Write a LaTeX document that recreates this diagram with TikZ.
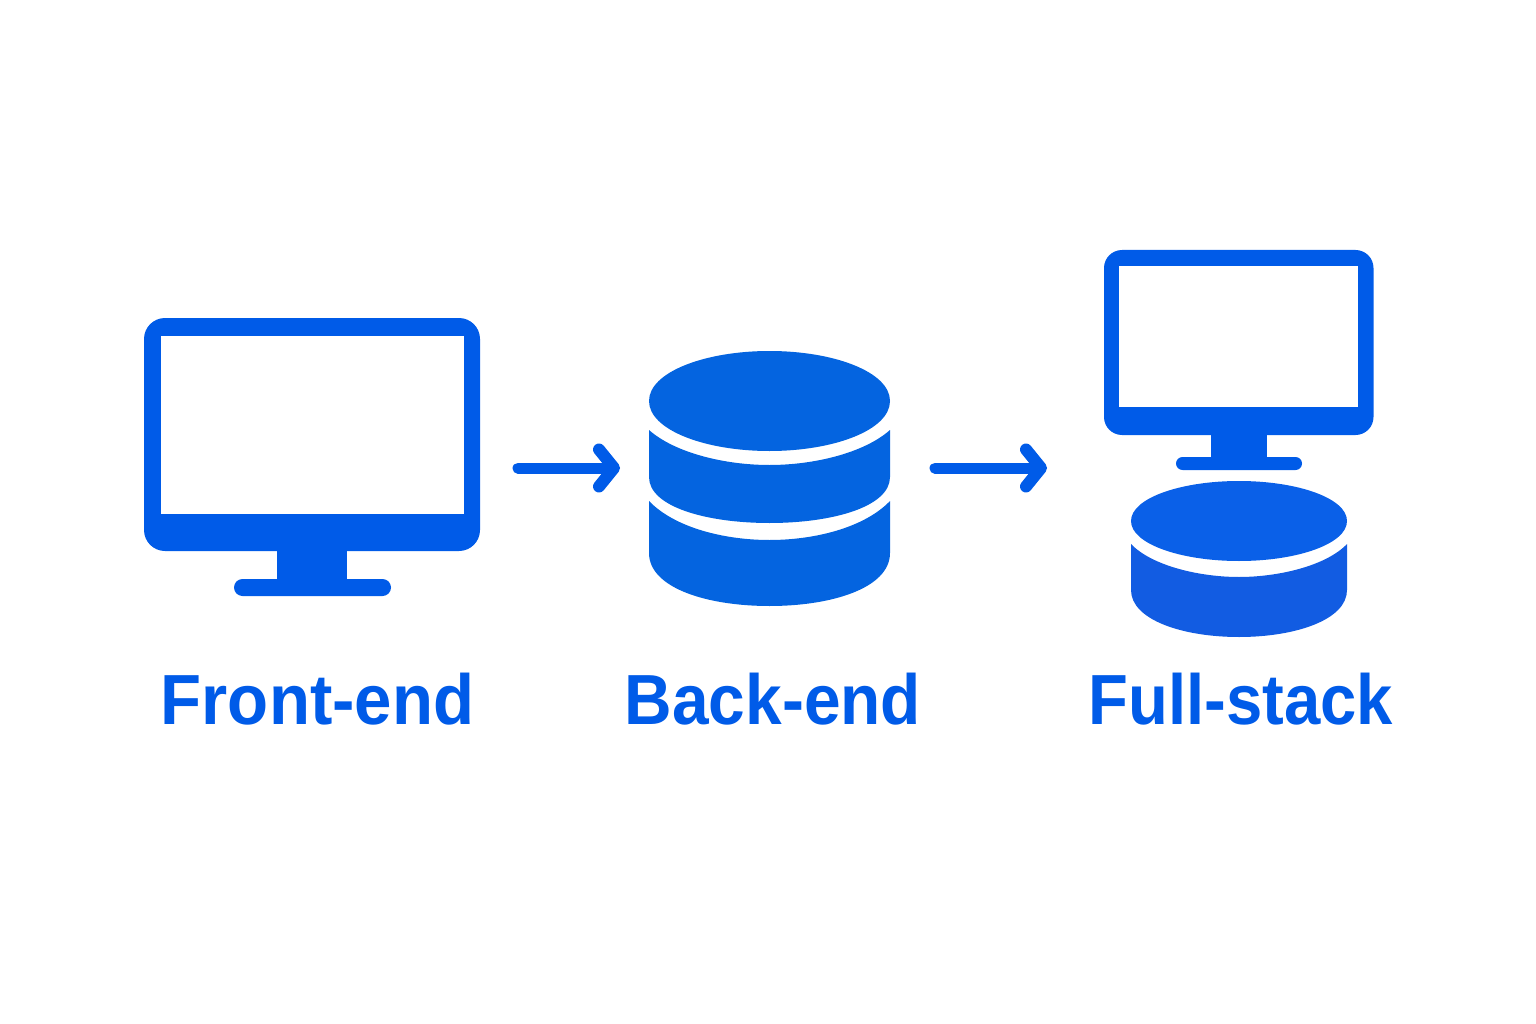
\documentclass[tikz,border=0pt]{standalone}
\usepackage{fontspec}
\setmainfont{Liberation Sans}[FakeStretch=0.95]
\usetikzlibrary{arrows.meta}
\definecolor{iconblue}{RGB}{0,91,232}
\definecolor{dbblue}{RGB}{4,100,224}
\definecolor{stacktop}{RGB}{10,96,232}
\definecolor{stackbot}{RGB}{18,92,226}
\tikzset{
  labeltext/.style={font=\fontsize{71}{80}\selectfont\bfseries,text=iconblue,anchor=base,inner sep=0pt,transform shape},
  flow/.style={draw=iconblue,line width=11pt,line cap=round,-{Straight Barb[round,length=15pt,width=37pt,line width=12pt]}},
  iconfill/.style={fill=iconblue},
  screenhole/.style={fill=white}
}
\begin{document}
\begin{tikzpicture}[x=1pt,y=-1pt]
\useasboundingbox[fill=white] (0,0) rectangle (1536,1024);
% Front-end monitor
\fill[iconfill,rounded corners=21pt] (144,318) rectangle (480,551);
\fill[screenhole] (160.5,335.5) rectangle (463.5,514);
\fill[iconfill] (277,545) rectangle (347,585);
\fill[iconfill,rounded corners=8.5pt] (234,579) rectangle (391,596);
% Back-end database
\fill[dbblue] (649,401) .. controls (649,372) and (705,351) .. (769.5,351)
  .. controls (834,351) and (890,372) .. (890,401)
  .. controls (890,430) and (834,451) .. (769.5,451)
  .. controls (705,451) and (649,430) .. (649,401) -- cycle;
\fill[dbblue] (649,430) .. controls (675,453) and (725,465) .. (769.5,465)
  .. controls (814,465) and (864,453) .. (890,430) -- (890,477)
  .. controls (890,507) and (832,523) .. (769.5,523)
  .. controls (707,523) and (649,507) .. (649,477) -- cycle;
\fill[dbblue] (649,501) .. controls (675,528) and (725,540) .. (769.5,540)
  .. controls (814,540) and (864,528) .. (890,501) -- (890,553)
  .. controls (890,588) and (832,606) .. (769.5,606)
  .. controls (707,606) and (649,588) .. (649,553) -- cycle;
% Full-stack monitor
\fill[iconfill,rounded corners=18pt] (1104,250) rectangle (1373.5,435);
\fill[screenhole] (1119,266) rectangle (1358,407);
\fill[iconfill] (1211,430) rectangle (1267,460);
\fill[iconfill,rounded corners=6.5pt] (1176,457) rectangle (1302,470);
% Full-stack database
\fill[stacktop] (1131,521) .. controls (1131,498) and (1181,481) .. (1239,481)
  .. controls (1297,481) and (1347,498) .. (1347,521)
  .. controls (1347,544) and (1297,561) .. (1239,561)
  .. controls (1181,561) and (1131,544) .. (1131,521) -- cycle;
\fill[stackbot] (1131,544) .. controls (1152,566) and (1200,577) .. (1239,577)
  .. controls (1278,577) and (1326,566) .. (1347,544) -- (1347,590)
  .. controls (1347,620) and (1295,637) .. (1239,637)
  .. controls (1183,637) and (1131,620) .. (1131,590) -- cycle;
% Connectors
\coordinate (frontout) at (518,468);
\coordinate (backin) at (620,468);
\coordinate (backout) at (935,468);
\coordinate (stackin) at (1047,468);
\draw[flow] (frontout) -- (backin);
\draw[flow] (backout) -- (stackin);
% Labels
\node[labeltext,xscale=0.996] (front) at (317.5,724) {Front-end};
\node[labeltext,xscale=0.976] (back) at (773,724) {Back-end};
\node[labeltext,xscale=0.967] (full) at (1241,724) {Full-stack};
\end{tikzpicture}
\end{document}
